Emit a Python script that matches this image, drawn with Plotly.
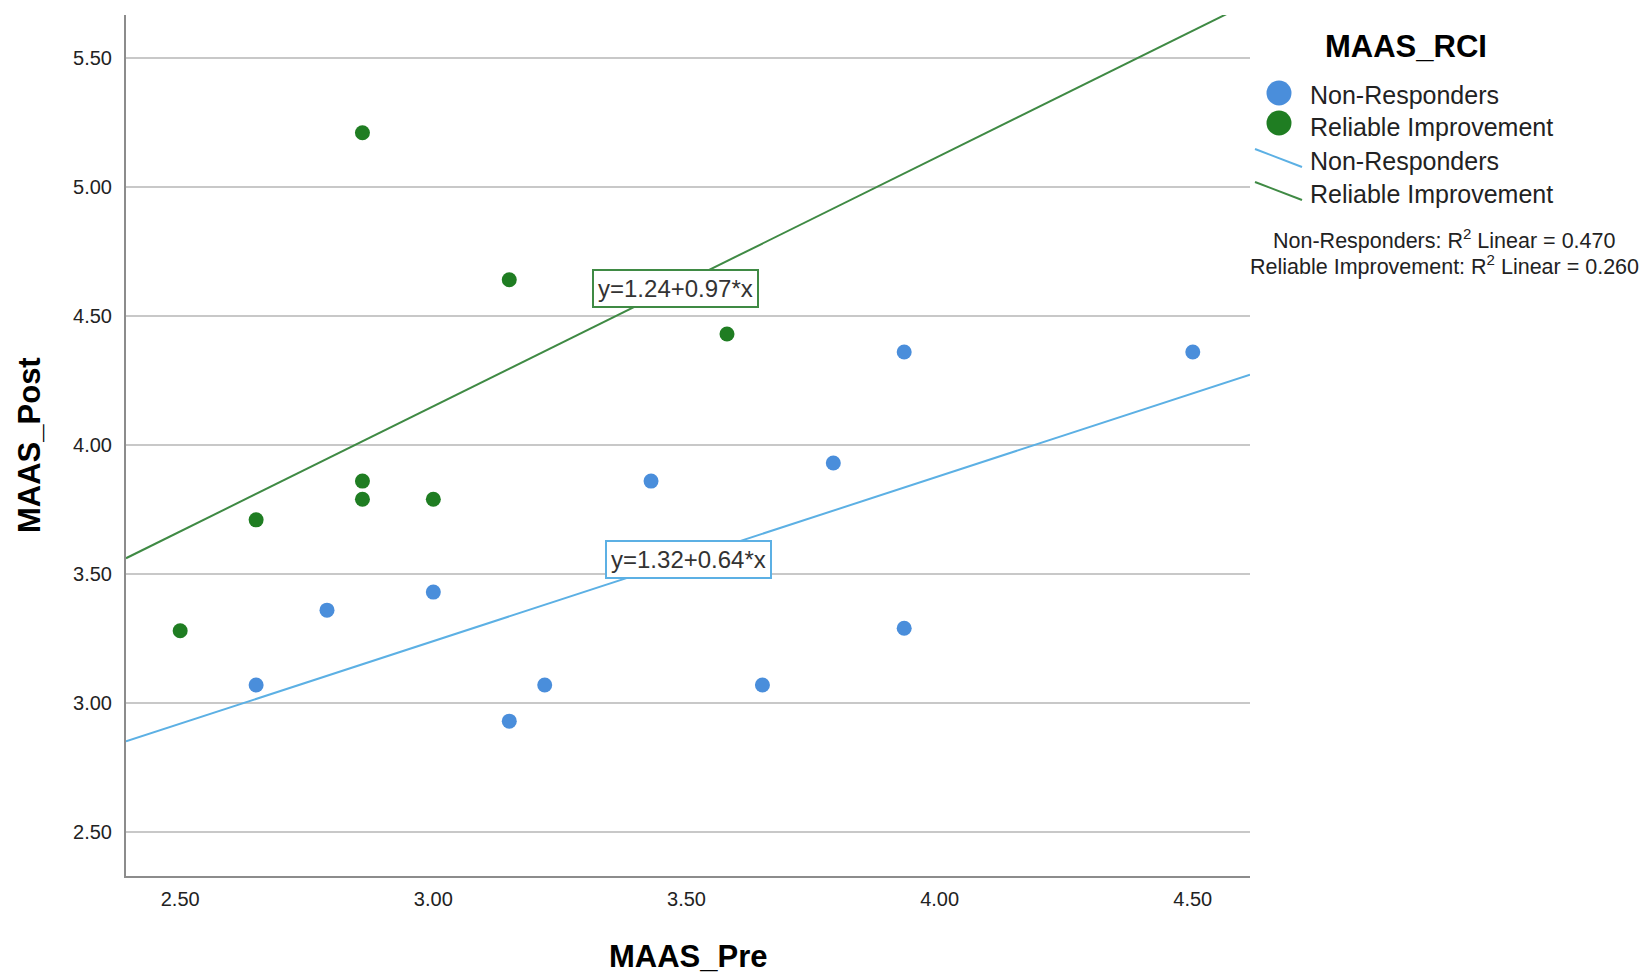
import plotly.graph_objects as go

# MAAS pre/post scores by reliable change group
groups = ["Non-Responders", "Reliable Improvement"]

nonresp_pre = [2.65, 2.79, 3.00, 3.15, 3.22, 3.43, 3.65, 3.79, 3.93, 3.93, 4.50]
nonresp_post = [3.07, 3.36, 3.43, 2.93, 3.07, 3.86, 3.07, 3.93, 4.36, 3.29, 4.36]

improved_pre = [2.50, 2.65, 2.86, 2.86, 2.86, 3.00, 3.15, 3.58]
improved_post = [3.28, 3.71, 3.86, 3.79, 5.21, 3.79, 4.64, 4.43]

# Linear fit coefficients and R-squared per group
fit_intercept = [1.32, 1.24]
fit_slope = [0.64, 0.97]
fit_r2 = [0.470, 0.260]

tick_vals = [2.50, 3.00, 3.50, 4.00, 4.50, 5.00, 5.50]

X_RANGE = [2.393, 4.613]
Y_RANGE = [2.33, 5.666]

DOT_COLORS = ["#4a8edb", "#1f7d22"]
LINE_COLORS = ["#5cb0e4", "#3f8a44"]
FONT = "Liberation Sans, Arial, sans-serif"

# plot area in pixels
L, R, T, B = 126, 1250, 15, 876
W, H = 1642, 975


def px_x(px):
    return (px - L) / (R - L)


def px_y(py):
    return (B - py) / (B - T)


fig = go.Figure()

series = [(nonresp_pre, nonresp_post), (improved_pre, improved_post)]
for i, (xs, ys) in enumerate(series):
    fig.add_trace(go.Scatter(
        x=xs, y=ys, mode="markers", name=groups[i],
        marker=dict(size=15, color=DOT_COLORS[i], line=dict(width=0)),
        showlegend=False,
    ))

# fitted lines across the full x range
for i in range(2):
    xs = X_RANGE
    ys = [fit_intercept[i] + fit_slope[i] * v for v in xs]
    fig.add_trace(go.Scatter(
        x=xs, y=ys, mode="lines", name=groups[i],
        line=dict(color=LINE_COLORS[i], width=2),
        showlegend=False, hoverinfo="skip",
    ))

annotations = []

# equation labels
label_pos = [(3.503, 3.557), (3.478, 4.607)]
for i in range(2):
    annotations.append(dict(
        x=label_pos[i][0], y=label_pos[i][1], xref="x", yref="y",
        text=f"y={fit_intercept[i]:.2f}+{fit_slope[i]:.2f}*x",
        showarrow=False, font=dict(family=FONT, size=24, color="#333333"),
        bgcolor="white", bordercolor=LINE_COLORS[i], borderwidth=2, borderpad=4,
    ))

# axis titles
annotations.append(dict(
    x=px_x(688), y=px_y(957), xref="paper", yref="paper",
    text="<b>MAAS_Pre</b>", showarrow=False,
    font=dict(family=FONT, size=31, color="black"),
    xanchor="center", yanchor="middle",
))
annotations.append(dict(
    x=px_x(29), y=px_y(445), xref="paper", yref="paper",
    text="<b>MAAS_Post</b>", showarrow=False, textangle=-90,
    font=dict(family=FONT, size=31, color="black"),
    xanchor="center", yanchor="middle",
))

# legend block
annotations.append(dict(
    x=px_x(1406), y=px_y(46), xref="paper", yref="paper",
    text="<b>MAAS_RCI</b>", showarrow=False,
    font=dict(family=FONT, size=31, color="black"),
    xanchor="center", yanchor="middle",
))
legend_rows = [95, 127, 161, 194]
legend_labels = groups + groups
for row_y, lab in zip(legend_rows, legend_labels):
    annotations.append(dict(
        x=px_x(1308), y=px_y(row_y), xref="paper", yref="paper",
        text=lab, showarrow=False,
        font=dict(family=FONT, size=25, color="#222222"),
        xanchor="left", yanchor="middle",
    ))

r2_rows = [239, 265]
for i in range(2):
    annotations.append(dict(
        x=px_x(1444), y=px_y(r2_rows[i]), xref="paper", yref="paper",
        text=f"{groups[i]}: R<sup>2</sup> Linear = {fit_r2[i]:.3f}",
        showarrow=False,
        font=dict(family=FONT, size=21.5, color="#222222"),
        xanchor="center", yanchor="middle",
    ))

shapes = []
for i, cy in enumerate([93, 123]):
    rad = 12.5
    shapes.append(dict(
        type="circle", xref="paper", yref="paper",
        x0=px_x(1279 - rad), x1=px_x(1279 + rad),
        y0=px_y(cy + rad), y1=px_y(cy - rad),
        fillcolor=DOT_COLORS[i], line=dict(width=0),
    ))
for i, (y0, y1) in enumerate([(149, 167), (182, 200)]):
    shapes.append(dict(
        type="line", xref="paper", yref="paper",
        x0=px_x(1255), x1=px_x(1302), y0=px_y(y0), y1=px_y(y1),
        line=dict(color=LINE_COLORS[i], width=2),
    ))

fig.update_layout(
    width=W, height=H,
    margin=dict(l=L, r=W - R, t=T, b=H - B),
    paper_bgcolor="white", plot_bgcolor="white",
    font=dict(family=FONT, size=20, color="#222222"),
    annotations=annotations, shapes=shapes,
    showlegend=False,
)

fig.update_xaxes(
    range=X_RANGE, tickvals=tick_vals, tickformat=".2f",
    showgrid=False, zeroline=False,
    showline=True, linecolor="#8c8c8c", linewidth=2,
    ticks="", ticklabelstandoff=4,
    tickfont=dict(family=FONT, size=20, color="#222222"),
)
fig.update_yaxes(
    range=Y_RANGE, tickvals=tick_vals, tickformat=".2f",
    showgrid=True, gridcolor="#c8c8c8", gridwidth=2, zeroline=False,
    showline=True, linecolor="#8c8c8c", linewidth=2,
    ticks="", ticklabelstandoff=8,
    tickfont=dict(family=FONT, size=20, color="#222222"),
)

fig.write_html("out.html")
